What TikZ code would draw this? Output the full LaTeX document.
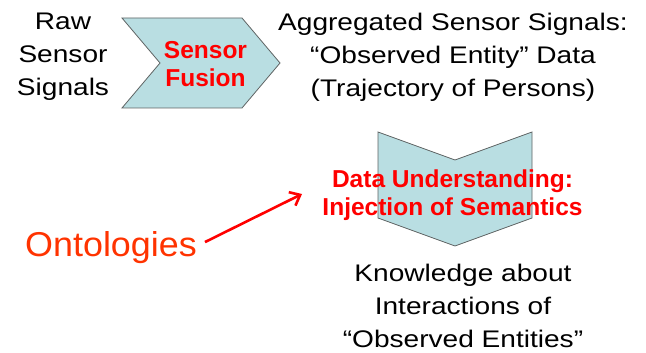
\documentclass[tikz,border=0pt]{standalone}
\usepackage{fontspec}
\setmainfont{Liberation Sans}
\newfontfamily\regfont[FakeStretch=1.17]{Liberation Sans}
\newfontfamily\ontofont[FakeStretch=1.04]{Liberation Sans}
\usetikzlibrary{arrows.meta}
\definecolor{chevfill}{RGB}{185,222,226}
\definecolor{chevline}{RGB}{95,100,100}
\definecolor{ontored}{RGB}{255,51,0}
\tikzset{
  chevron/.style={fill=chevfill, draw=chevline, line width=0.8pt, line join=miter},
  plaintext/.style={align=center, inner sep=0pt, text=black, font=\regfont\fontsize{24}{33}\selectfont},
  redtext/.style={align=center, inner sep=0pt, text=red, font=\bfseries\fontsize{24.5}{27.5}\selectfont},
  pointer/.style={draw=red, line width=2.6pt, -{Straight Barb[length=9pt,width=15pt,line width=2.6pt]}}
}
\begin{document}
\begin{tikzpicture}[x=1pt,y=-1pt]
\useasboundingbox[fill=white] (0,0) rectangle (646,353);
% chevrons
\filldraw[chevron] (122,18) -- (242,18) -- (280,63) -- (242,108) -- (122,108) -- (160,63) -- cycle;
\filldraw[chevron] (378,132) -- (455,160) -- (532,132) -- (532,218) -- (455,246) -- (378,218) -- cycle;
% texts
\node[plaintext] (raw) at (63,57) {Raw\\Sensor\\Signals};
\node[redtext] (fusion) at (205.5,64) {Sensor\\Fusion};
\node[plaintext] (agg) at (453,57) {Aggregated Sensor Signals:\\“Observed Entity” Data\\(Trajectory of Persons)};
\node[redtext] (understand) at (452.5,195) {Data Understanding:\\Injection of Semantics};
\node[plaintext] (know) at (463,306) {Knowledge about\\Interactions of\\“Observed Entities”};
\node[anchor=base, inner sep=4pt, text=ontored, font=\ontofont\fontsize{34.5}{40}\selectfont] (onto) at (111,256) {Ontologies};
\coordinate (arrE) at (302,194);
\draw[pointer] ([xshift=4pt,yshift=5pt]onto.east) -- (arrE);
\end{tikzpicture}
\end{document}
